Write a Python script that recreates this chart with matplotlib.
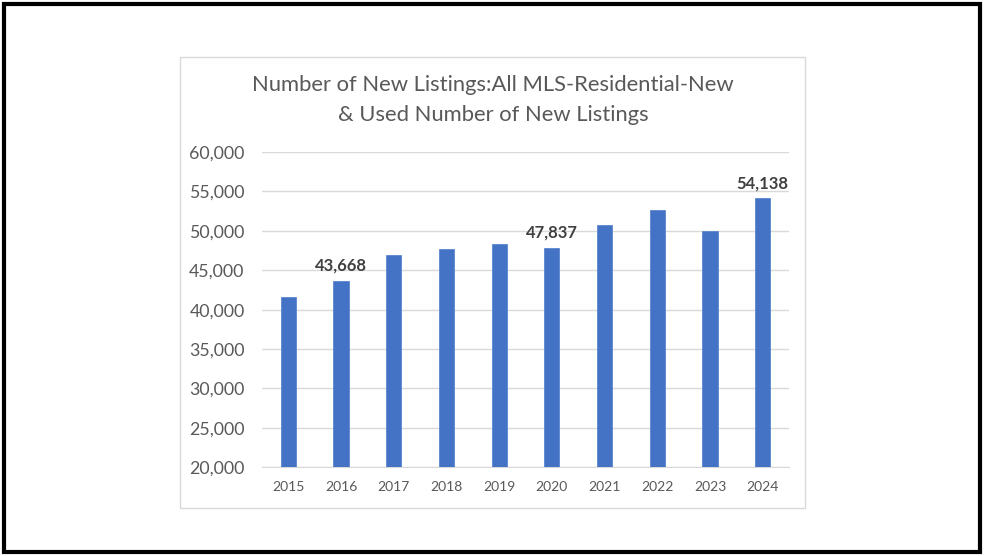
import matplotlib
matplotlib.use("Agg")
import matplotlib.pyplot as plt
from matplotlib.patches import Rectangle
from matplotlib.ticker import FuncFormatter

plt.rcParams['font.family'] = ['Lato', 'DejaVu Sans']

years = ["2015", "2016", "2017", "2018", "2019", "2020", "2021", "2022", "2023", "2024"]
listings = [41600, 43668, 46950, 47650, 48350, 47837, 50750, 52700, 49950, 54138]
labeled_years = ["2016", "2020", "2024"]
title = "Number of New Listings:All MLS-Residential-New\n& Used Number of New Listings"

W, H = 985, 556
fig = plt.figure(figsize=(W / 100, H / 100), dpi=100)
fig.patch.set_facecolor("white")

# outer black frame
fig.add_artist(Rectangle((4 / W, 4 / H), (980 - 4) / W, (552 - 4) / H, transform=fig.transFigure,
                         fill=False, edgecolor="black", linewidth=3))
# chart area frame
fig.add_artist(Rectangle((180 / W, 1 - 508 / H), (805 - 180) / W, (508 - 57) / H, transform=fig.transFigure,
                         fill=False, edgecolor="#d9d9d9", linewidth=1))

ax = fig.add_axes([262 / W, 1 - 467.3 / H, (789 - 262) / W, (467.3 - 152) / H])
x = list(range(len(years)))
ax.bar(x, listings, width=0.29, color="#4472c4", edgecolor="#5b86d0", linewidth=0.6, zorder=3)
ax.set_ylim(20000, 60000)
ax.set_xlim(-0.5, len(years) - 0.5)
ax.set_yticks(range(20000, 60001, 5000))
ax.yaxis.set_major_formatter(FuncFormatter(lambda v, p: f"{int(v):,}"))
ax.set_xticks(x)
ax.set_xticklabels(years)
ax.grid(axis="y", color="#d9d9d9", linewidth=1, zorder=0)
for s in ["top", "right", "left"]:
    ax.spines[s].set_visible(False)
ax.spines["bottom"].set_color("#d9d9d9")
ax.tick_params(axis="y", length=0, labelsize=12.8, labelcolor="#595959", pad=12.5)
ax.tick_params(axis="x", length=0, labelsize=10, labelcolor="#595959", pad=10)

for xi, yr, v in zip(x, years, listings):
    if yr in labeled_years:
        ax.annotate(f"{v:,}", (xi, v), xytext=(0, 5), textcoords="offset points",
                    ha="center", va="bottom", fontsize=12, fontweight="bold", color="#404040")

fig.text(493 / W, 1 - 100 / H, title, ha="center", va="center", fontsize=15.8,
         color="#595959", linespacing=1.6)

fig.savefig("out.png", dpi=100, facecolor="white")
